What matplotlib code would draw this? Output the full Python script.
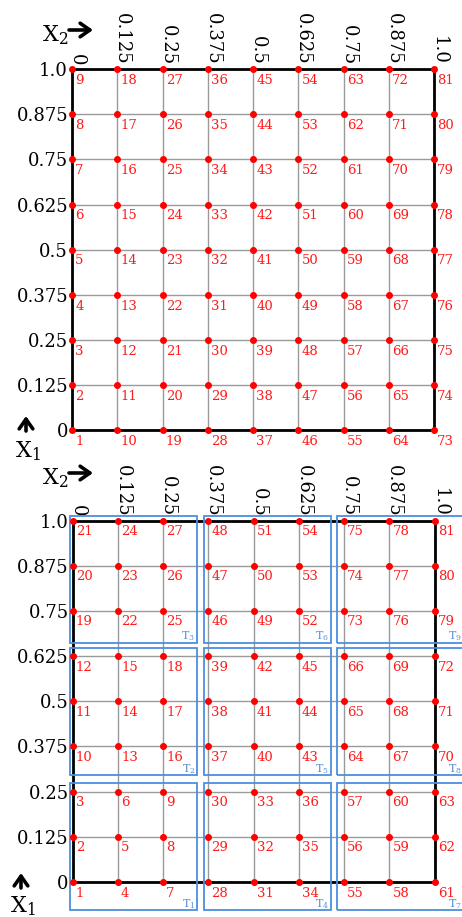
import matplotlib.pyplot as plt
from matplotlib.patches import Rectangle

plt.rcParams['font.family'] = ['DejaVu Serif']
plt.rcParams['mathtext.fontset'] = 'dejavuserif'

# grid values on both axes (X2 horizontal, X1 vertical)
grid_vals = [0, 0.125, 0.25, 0.375, 0.5, 0.625, 0.75, 0.875, 1.0]
tick_labels = ['0', '0.125', '0.25', '0.375', '0.5', '0.625', '0.75', '0.875', '1.0']

# box layout for the 3x3 sub-blocks in the lower panel
box_x0 = [-0.006, 0.363, 0.730]
box_y0 = [-0.077, 0.296, 0.662]
box_size = 0.35

W, H = 462, 917
RED = '#ff1a1a'
BLUE = '#4a8fe0'


def px(x, y):
    return x / W, 1 - y / H


def setup(ax):
    ax.set_xlim(0, 1)
    ax.set_ylim(0, 1)
    ax.xaxis.tick_top()
    ax.set_xticks(grid_vals)
    ax.set_yticks(grid_vals)
    ax.set_xticklabels(tick_labels, rotation=-90, ha='right', va='baseline',
                       rotation_mode='anchor', fontsize=13)
    ax.set_yticklabels(tick_labels, fontsize=13)
    ax.tick_params(length=0, pad=2.8)
    ax.grid(True, color='#9a9a9a', lw=1.0)
    ax.set_axisbelow(True)
    for s in ax.spines.values():
        s.set_linewidth(2.0)
        s.set_color('black')
        s.set_zorder(3)


def draw_points(ax, numbering):
    for i, xv in enumerate(grid_vals):
        for j, yv in enumerate(grid_vals):
            ax.plot(xv, yv, 'o', color='red', ms=4, clip_on=False, zorder=5)
            ax.annotate(str(numbering(i, j)), (xv, yv), xytext=(2.3, -3.3),
                        textcoords='offset points', ha='left', va='top',
                        fontsize=9.5, color=RED, annotation_clip=False, zorder=6)


def arrow(x0, y0, x1, y1):
    plt.annotate('', xy=px(x1, y1), xytext=px(x0, y0), xycoords='figure fraction',
                 arrowprops=dict(arrowstyle='->,head_length=0.5,head_width=0.35', lw=2.6,
                                 color='black', shrinkA=0, shrinkB=0, mutation_scale=14))


fig = plt.figure(figsize=(W / 100, H / 100), dpi=100)

ax1 = fig.add_axes([72 / W, 1 - 430.5 / H, 362 / W, 361.5 / H])
setup(ax1)
draw_points(ax1, lambda i, j: i * 9 + j + 1)

ax2 = fig.add_axes([72.5 / W, 1 - 882 / H, 362 / W, 361.5 / H])
setup(ax2)
draw_points(ax2, lambda i, j: ((i // 3) * 3 + j // 3) * 9 + (i % 3) * 3 + j % 3 + 1)

for bi in range(3):
    for bj in range(3):
        r = Rectangle((box_x0[bi], box_y0[bj]), box_size, box_size, fill=False,
                      edgecolor=BLUE, lw=1.3, clip_on=False, zorder=4)
        ax2.add_patch(r)
        ax2.text(box_x0[bi] + box_size - 0.005, box_y0[bj] - 0.002,
                 'T$_{%d}$' % (bi * 3 + bj + 1), ha='right', va='bottom',
                 fontsize=8, color='#5b8fd9', clip_on=False, zorder=6)

# axis name labels with arrows
for y_x2, y_x1_arrow, x_x1, y_x1 in [(35, 424, 28, 451), (478, 881, 23, 906)]:
    fig.text(*px(55, y_x2), 'X$_2$', fontsize=16, ha='center', va='center')
    fig.text(*px(x_x1, y_x1), 'X$_1$', fontsize=16, ha='center', va='center')
    arrow(69, y_x2 - 5, 93, y_x2 - 5)
    arrow(x_x1 - 2, y_x1_arrow + 7, x_x1 - 2, y_x1_arrow - 8)

fig.savefig('out.png', dpi=100)
